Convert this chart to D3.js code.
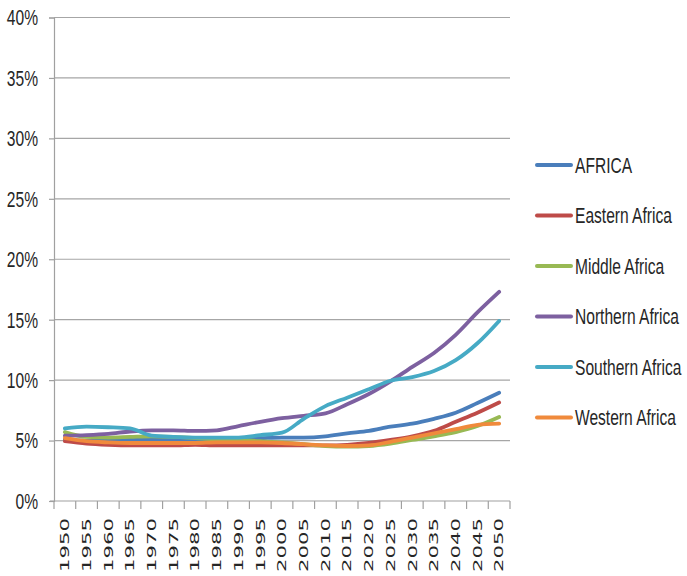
<!DOCTYPE html>
<html>
<head>
<meta charset="utf-8">
<script src="https://cdn.jsdelivr.net/npm/d3@7"></script>
<style>
html,body{margin:0;padding:0;background:#fff;}
svg{display:block;}
</style>
</head>
<body>
<svg id="chart" width="687" height="576"></svg>
<script>
const years = ["1950","1955","1960","1965","1970","1975","1980","1985","1990","1995","2000","2005","2010","2015","2020","2025","2030","2035","2040","2045","2050"];
const yTicks = [0,5,10,15,20,25,30,35,40];
const seriesNames = ["AFRICA","Eastern Africa","Middle Africa","Northern Africa","Southern Africa","Western Africa"];
const africa   = [5.1,5.0,5.0,5.05,5.1,5.1,5.1,5.1,5.15,5.2,5.25,5.25,5.35,5.6,5.8,6.15,6.4,6.8,7.3,8.1,8.95];
const eastern  = [4.95,4.75,4.65,4.6,4.6,4.6,4.65,4.6,4.6,4.6,4.6,4.6,4.6,4.65,4.8,5.05,5.35,5.8,6.55,7.3,8.15];
const middle   = [5.7,5.3,5.25,5.3,5.35,5.3,5.2,5.1,5.05,4.95,4.85,4.7,4.55,4.5,4.55,4.75,5.05,5.35,5.7,6.2,6.95];
const northern = [5.4,5.45,5.55,5.75,5.85,5.85,5.8,5.85,6.2,6.55,6.85,7.05,7.25,8.0,8.85,9.9,11.1,12.25,13.75,15.6,17.3];
const southern = [6.0,6.15,6.1,6.0,5.4,5.3,5.25,5.25,5.25,5.45,5.65,6.8,7.85,8.55,9.25,9.95,10.25,10.75,11.65,13.05,14.9];
const western  = [5.2,4.95,4.85,4.8,4.8,4.8,4.8,4.85,4.85,4.85,4.8,4.7,4.6,4.55,4.6,4.9,5.25,5.6,5.95,6.3,6.4];
const colors = ["#4A7EBB","#BE4B48","#98B954","#7D60A0","#46AAC5","#F08A3C"];

const seriesValues = [africa, eastern, middle, northern, southern, western];

const svg = d3.select("#chart");
const plotLeft = 54, plotRight = 510, plotTop = 17.5, plotBottom = 501;
const labelFont = "'Liberation Sans',Arial,sans-serif";

// measure a reference string to derive a horizontal squeeze factor
const probe = svg.append("text").attr("font-family", labelFont).attr("font-size", 22).text("Eastern Africa");
const probeLen = probe.node().getComputedTextLength() || 138;
probe.remove();
const sx = 97 / probeLen;

const x = d3.scaleBand().domain(years).range([plotLeft, plotRight]).padding(0);
const y = d3.scaleLinear().domain([0, 40]).range([plotBottom, plotTop]);

// gridlines
svg.append("g").selectAll("line").data(yTicks.filter(d => d > 0)).join("line")
  .attr("x1", plotLeft).attr("x2", plotRight)
  .attr("y1", d => y(d)).attr("y2", d => y(d))
  .attr("stroke", "#A6A6A6").attr("stroke-width", 1.2);

// y axis
const yAxis = svg.append("g").attr("transform", `translate(${plotLeft},0)`)
  .call(d3.axisLeft(y).tickValues(yTicks).tickSize(5).tickPadding(0).tickFormat(d => ""));
yAxis.select(".domain").attr("stroke", "#A0A0A0").attr("stroke-width", 1.2);
yAxis.selectAll(".tick line").attr("stroke", "#A0A0A0").attr("stroke-width", 1.2);

// y labels
svg.append("g").selectAll("text").data(yTicks).join("text")
  .attr("transform", d => `translate(38,${y(d)}) scale(${sx},1)`)
  .attr("text-anchor", "end")
  .attr("dy", "0.36em")
  .attr("font-family", labelFont)
  .attr("font-size", 22)
  .attr("fill", "#262626")
  .text(d => d + "%");

// x axis
svg.append("line").attr("x1", plotLeft - 4).attr("x2", plotRight)
  .attr("y1", plotBottom).attr("y2", plotBottom)
  .attr("stroke", "#A0A0A0").attr("stroke-width", 1.2);
const boundaries = years.map(d => x(d)).concat([x(years[years.length-1]) + x.bandwidth()]);
svg.append("g").selectAll("line").data(boundaries).join("line")
  .attr("x1", d => d).attr("x2", d => d)
  .attr("y1", plotBottom).attr("y2", plotBottom + 8)
  .attr("stroke", "#A0A0A0").attr("stroke-width", 1.2);

// x labels
svg.append("g").selectAll("text").data(years).join("text")
  .attr("transform", d => `translate(${x(d) + x.bandwidth()/2},518) rotate(-90) scale(1.77,1)`)
  .attr("text-anchor", "end")
  .attr("dy", "0.36em")
  .attr("font-family", "'DejaVu Sans',sans-serif")
  .attr("font-size", 12)
  .attr("fill", "#262626")
  .text(d => d);

// lines
const line = d3.line()
  .x((d, i) => x(years[i]) + x.bandwidth()/2)
  .y(d => y(d))
  .curve(d3.curveMonotoneX);

svg.append("g").selectAll("path").data(seriesValues).join("path")
  .attr("d", d => line(d))
  .attr("fill", "none")
  .attr("stroke", (d, i) => colors[i])
  .attr("stroke-width", 3.8)
  .attr("stroke-linecap", "round")
  .attr("stroke-linejoin", "round");

// legend
const lg = svg.append("g").selectAll("g").data(seriesNames).join("g")
  .attr("transform", (d, i) => `translate(0,${165 + i * 50.5})`);
lg.append("line").attr("x1", 537).attr("x2", 571).attr("y1", 0).attr("y2", 0)
  .attr("stroke", (d, i) => colors[i]).attr("stroke-width", 4).attr("stroke-linecap", "round");
lg.append("text")
  .attr("transform", `translate(575,0) scale(${sx},1)`)
  .attr("dy", "0.36em")
  .attr("font-family", labelFont)
  .attr("font-size", 22)
  .attr("fill", "#262626")
  .text(d => d);
</script>
</body>
</html>
